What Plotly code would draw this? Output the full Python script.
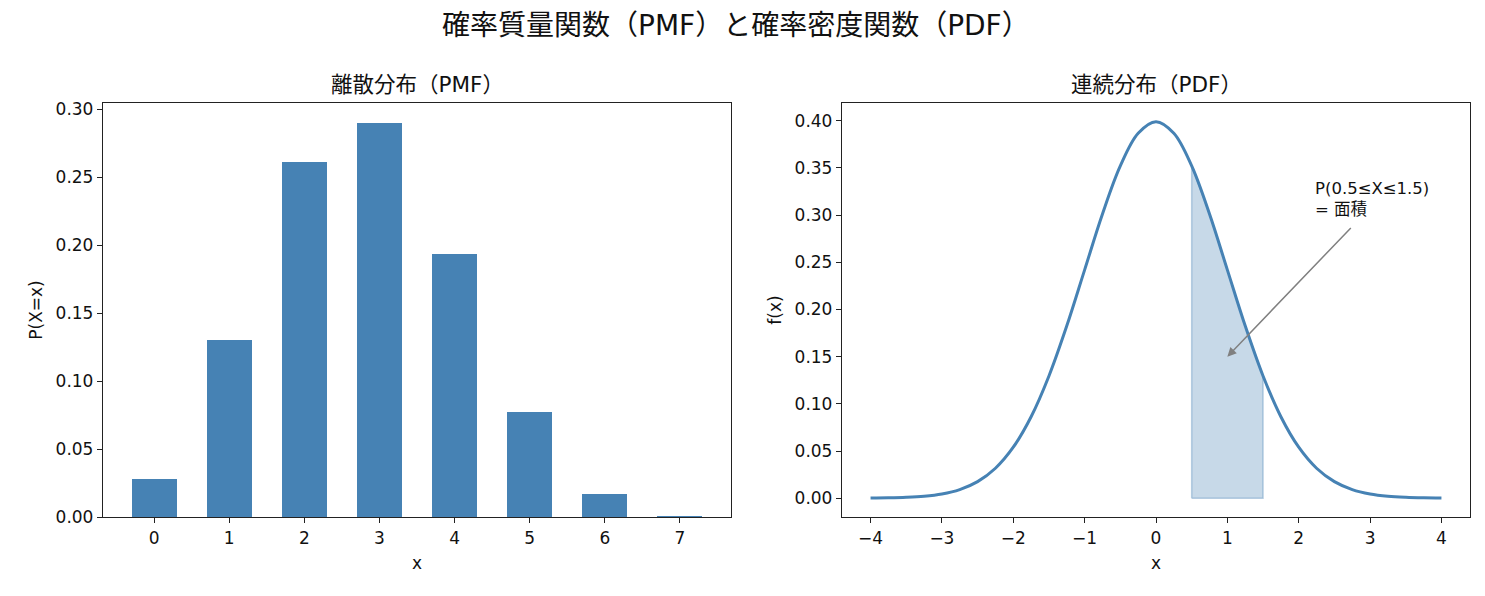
import plotly.graph_objects as go

# Discrete distribution (PMF)
pmf_x = [0, 1, 2, 3, 4, 5, 6, 7]
pmf_p = [0.0280, 0.1306, 0.2613, 0.2903, 0.1935, 0.0774, 0.0172, 0.0005]

# Continuous distribution (PDF)
pdf_x = [-4.0, -3.75, -3.5, -3.25, -3.0, -2.75, -2.5, -2.25, -2.0, -1.75, -1.5, -1.25, -1.0, -0.75, -0.5, -0.25,
         0.0, 0.25, 0.5, 0.75, 1.0, 1.25, 1.5, 1.75, 2.0, 2.25, 2.5, 2.75, 3.0, 3.25, 3.5, 3.75, 4.0]
pdf_y = [0.00013, 0.00035, 0.00087, 0.00203, 0.00443, 0.00909, 0.01753, 0.03174, 0.05399, 0.08628, 0.12952,
         0.18265, 0.24197, 0.30114, 0.35207, 0.38667, 0.39894, 0.38667, 0.35207, 0.30114, 0.24197, 0.18265,
         0.12952, 0.08628, 0.05399, 0.03174, 0.01753, 0.00909, 0.00443, 0.00203, 0.00087, 0.00035, 0.00013]
shade_lo, shade_hi = 0.5, 1.5

pmf_ticks = [0, 1, 2, 3, 4, 5, 6, 7]
pmf_yticks = [0.00, 0.05, 0.10, 0.15, 0.20, 0.25, 0.30]
pdf_xticks = [-4, -3, -2, -1, 0, 1, 2, 3, 4]
pdf_yticks = [0.00, 0.05, 0.10, 0.15, 0.20, 0.25, 0.30, 0.35, 0.40]

FONT = "DejaVu Sans, Noto Sans CJK JP"
BLUE = "#4682b4"

# page body has an 8px margin; size the figure so it fits the window
W, H, OFF = 1469, 580, 8


def px_x(p):
    return (p - OFF) / W


def px_y(p):
    return 1 - (p - OFF) / H


fig = go.Figure()
fig.add_trace(go.Bar(x=pmf_x, y=pmf_p, width=0.6, marker=dict(color=BLUE, line=dict(width=0)),
                     xaxis="x", yaxis="y", showlegend=False))

sx = [x for x in pdf_x if shade_lo <= x <= shade_hi]
sy = [y for x, y in zip(pdf_x, pdf_y) if shade_lo <= x <= shade_hi]
fig.add_trace(go.Scatter(x=[sx[0]] + sx + [sx[-1], sx[0]], y=[0] + sy + [0, 0], fill="toself",
                         fillcolor="rgba(70,130,180,0.3)", line=dict(color="rgba(70,130,180,0.35)", width=1.5),
                         mode="lines", xaxis="x2", yaxis="y2", showlegend=False))
fig.add_trace(go.Scatter(x=pdf_x, y=pdf_y, mode="lines", line=dict(color=BLUE, width=3, shape="spline", smoothing=1.0),
                         xaxis="x2", yaxis="y2", showlegend=False))

axis_common = dict(showgrid=False, zeroline=False, showline=True, linecolor="#222", linewidth=1.3, mirror=True,
                   ticks="outside", ticklen=5, tickwidth=1.2, tickcolor="#222", automargin=False,
                   tickfont=dict(family=FONT, size=17, color="#111"))

lx0, lx1 = px_x(103), px_x(731)
rx0, rx1 = px_x(842), px_x(1470)
yb, yt = px_y(517), px_y(103)

fig.update_layout(
    template="none",
    width=W, height=H, margin=dict(l=0, r=0, t=0, b=0, autoexpand=False),
    paper_bgcolor="white", plot_bgcolor="white", bargap=0,
    font=dict(family=FONT, color="#111"),
    xaxis=dict(domain=[lx0, lx1], range=[-0.68, 7.68], tickvals=pmf_ticks, anchor="y",
               title=dict(text="x", font=dict(size=17), standoff=10), **axis_common),
    yaxis=dict(domain=[yb, yt], range=[0, 0.3048], tickvals=pmf_yticks, tickformat=".2f", anchor="x",
               title=dict(text="P(X=x)", font=dict(size=17), standoff=8), **axis_common),
    xaxis2=dict(domain=[rx0, rx1], range=[-4.4, 4.4], tickvals=pdf_xticks, anchor="y2",
                title=dict(text="x", font=dict(size=17), standoff=10), **axis_common),
    yaxis2=dict(domain=[yb, yt], range=[-0.01995, 0.4188], tickvals=pdf_yticks, tickformat=".2f", anchor="x2",
                title=dict(text="f(x)", font=dict(size=17), standoff=8), **axis_common),
    annotations=[
        dict(text="確率質量関数（PMF）と確率密度関数（PDF）", x=px_x(736), y=px_y(26), xref="paper", yref="paper",
             showarrow=False, font=dict(size=28, family=FONT), xanchor="center", yanchor="middle"),
        dict(text="離散分布（PMF）", x=(lx0 + lx1) / 2, y=px_y(84), xref="paper", yref="paper",
             showarrow=False, font=dict(size=21.5, family=FONT), xanchor="center", yanchor="middle"),
        dict(text="連続分布（PDF）", x=(rx0 + rx1) / 2, y=px_y(84), xref="paper", yref="paper",
             showarrow=False, font=dict(size=21.5, family=FONT), xanchor="center", yanchor="middle"),
        dict(text="P(0.5≤X≤1.5)<br>= 面積", x=2.2, y=0.294, xref="x2", yref="y2", showarrow=False,
             xanchor="left", yanchor="bottom", align="left", font=dict(size=16.5, family=FONT)),
        dict(text="", x=1.0, y=0.15, ax=2.75, ay=0.288, xref="x2", yref="y2", axref="x2", ayref="y2",
             showarrow=True, arrowhead=2, arrowsize=1.2, arrowwidth=1.5, arrowcolor="gray"),
    ],
)

fig.write_html("out.html")
